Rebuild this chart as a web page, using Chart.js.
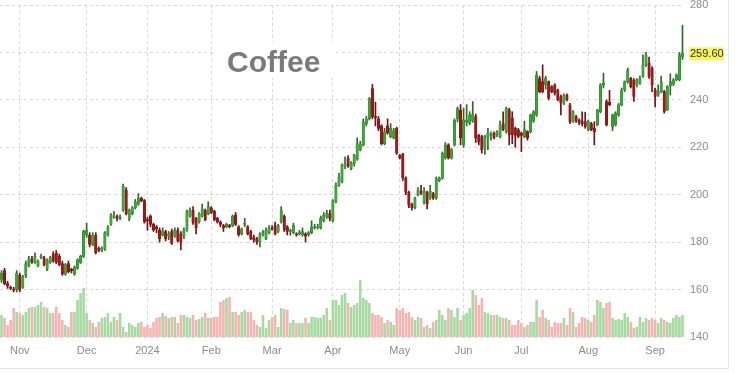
<!DOCTYPE html>
<html>
<head>
<meta charset="utf-8">
<script src="https://cdn.jsdelivr.net/npm/chart.js@4.4.1/dist/chart.umd.min.js"></script>
<style>
  body { margin: 0; background: #fff; }
  #wrap { width: 728px; height: 368px; border-right: 1px solid #e6e6e6; border-bottom: 1px solid #e6e6e6; }
</style>
</head>
<body>
<div id="wrap"><canvas id="chart" width="728" height="368"></canvas></div>
<script>
// daily candles, late Oct 2023 .. mid Sep 2024
const open = [
  164,168,162.5,161,160,160,166,161,166,170,173,171.5,170,173.5,173.5,168.5,171.5,175,175.5,174,
  171,166.5,171,168.5,166.5,169,171.5,174,183,183,179,183,177.5,176.5,177,183,187.5,190.5,191,190,
  193.5,202,190,192,194.5,196,198.5,197.5,189.5,191,187.5,186.5,185,183,184.5,182.5,184.5,182.5,185,183.5,
  182.5,185,191,193.5,190,188.5,191,193.5,192,194.5,193,190,188.5,187,186.5,187,187,191.5,186.5,183.5,
  187.5,186.5,184.5,182,181.5,180,183,181.5,184,186,187,184.5,188.5,191,186.5,184.5,184,183.5,183.5,183,
  183.5,183,184,186,186,186,189,190.5,192,189,197,204,205.5,212,215.5,211,213,215,219,221,
  230,232,244.8,233,232,229,221.5,229,224.5,224,228,216.5,217,207,201,196,194.5,200,201.5,196.5,
  201,198.5,200.5,198.5,206,207,215.5,221,215.5,221,232,235.6,221,230.5,230.2,231,233,225,224.5,219.6,
  224,225,226,225.3,224.5,230,226.6,235.8,232.3,228,227.4,226,224.5,226.6,226.6,231,233.7,249,247.7,246.3,
  247.7,245.6,246.3,244.2,241.4,238.6,242,237.9,230.8,233,231.5,230.8,230.8,227.4,230,228,229.5,235,246.4,239.3,
  239,228.7,229.4,233.7,237.9,244.2,247.7,249.1,248.4,246.3,247,249.9,254.8,255.5,253.4,244.2,242.1,243.5,243.5,235.8,
  246,246.6,248.4,248.4,258.3
];
const high = [
  168,169,163.5,161.5,161,168,167,166,172,174,174,175.5,172.5,175,174,173,174,176,176.5,175,
  172,171,172,169,170,173,174.5,185,188,184,184,184,178,178,184.5,187,192,193,191.5,191.5,
  204.5,203,194,195,198,200.5,199,198,190.5,191.5,188,187,186,186,185,184.5,185.5,186,186,184.5,
  186,193.5,194.5,195,190.5,192.5,196,194,197,195,193.5,190.5,189,187.5,188,187.5,191.5,192.5,187,186,
  190,187,185,183,182,184,185,186,187,187,188.5,187.5,195,191.5,187,185.5,188,184,185,186,
  184,184.5,189,187.5,187.5,191,192.5,193.5,193.5,198,205,209,213,216,216.5,214,217,224,222.5,232,
  233,241,246.5,239,233,229.5,228,232,230,228,228.5,217,217.5,207.5,201.5,196.5,199,203,204,203,
  201.5,204,201,207.5,207.5,218,222,221.5,219.5,232,237,238,236.5,238,235,239.3,234,225.5,225,225,
  228,226.5,226.5,227,231,235,237,236.5,235,228.5,228,226.5,231,227,234,235.5,252,250,254.8,250,
  248,246,246.8,244.5,242,242.5,242.5,238.5,235.5,233.5,232,235,234.8,231.5,230.5,230.8,236,246.8,251.3,240,
  244,234,235,238.5,245,248,253.4,249.5,249,249,250,259,260,258,254,245,246.3,250,244,246,
  251,249,251,260,271.5
];
const low = [
  163,162,160.5,160,159,159,159,160.5,165,169.5,171,171,169.5,173,170,168,171,171.5,171,170,
  166,166,167,167,166,168.5,171,173.5,182,178,178.5,175,176,176,176.5,182.5,187,190,189,189.5,
  193,191.5,189,191.5,194,195.5,197,188,185,186.5,184.5,184,180,182.5,180.5,181,179,182,180,176.7,
  181.5,184.5,190.5,187.5,183.5,188,190.5,189,191.5,192,189,188,186.5,184.5,186,186,186.5,187,182.5,183,
  186.5,183,181,180,179,178,182.5,181,183.5,185,183,184,188,184.5,183,182.9,183.5,182.5,183,182.5,
  180,182.5,183.5,185.5,185.5,185.5,188.5,190,189,188.5,196.5,203.5,205,211,211.5,210.5,212,214.5,218.5,220.5,
  229,231.5,232,229,227,221,221,225.5,224,223.5,217,215,206,200,194.5,193.5,194,199.5,200,196,
  194,198,198,198,205.5,206.5,215,215,215,220.5,230.7,221,220,229,229.5,230.5,222,221,217.5,217,
  219,223,223.5,224.5,224,227,226,221,221.5,220,224,218.2,224,223,226,230.5,233,243,243,244.5,
  240,243,242,239.5,233.7,238,239.5,230,230.5,230.5,229.5,229,228,227,227,221,229,234.5,245,229,
  237.5,227,229,233,237.5,243.5,247,245,239.3,245.5,246.5,249.5,254,249,243.5,237,241.5,243,234.4,235.5,
  242,246,248,248,257
];
const close = [
  167,162.5,161.5,160.5,159.8,167,160,165.5,171,173,171.5,174,172,174,170.5,172.5,173.5,172,171.5,170.5,
  166.5,170.5,167.5,168,169.5,172.5,174,184.7,185,179,183,175.5,176.5,177.5,184,186.5,191.5,191,190,190.5,
  203.5,192,193.5,194.5,197,198.5,197.5,188.5,189,187.5,185,185.5,181.5,184.5,181.5,183.5,179.5,185,180.5,180,
  185,193,193.5,188,186,192,194,189.5,195,192.5,189.5,188.5,187.5,186,187.5,186.5,191,187.5,183,185.5,
  188,183.5,181.5,181,180,183.5,184,185,186,185.5,183.5,187,193.5,185,184.5,185,187,183,184,184.5,
  182.5,184,186.5,186.5,186.5,190,191.5,192,190,197.5,204,207.5,212.5,213,212,213.5,216.7,221.6,221.5,230.7,
  232,240.5,232.8,232.5,228,221.5,226.5,226,228,227,217.5,215.5,207,201,195.5,194.5,198.5,202,200.5,201.5,
  196,201.5,198.5,206.8,207,217.5,221,215.5,219,231.4,236.3,224,231.6,231.5,233.7,234,223.8,222.4,219,224.5,
  226,225.5,224,226.5,229.4,227.5,236.5,225.2,225.2,225,224.6,225,227.5,223.8,233.7,235,250.5,243.5,243.5,249.1,
  240.7,243.5,242.8,240,238.6,242.1,240,230.8,235,231,230.3,230,228.7,230.8,227.4,226.5,235.8,246.3,247,229.4,
  238,233.7,234.4,237.9,244.2,247.7,252.6,245.6,241.4,248.4,249,254.8,259,249.7,246.3,241.4,243.5,247.7,235.1,245.6,
  247.7,248.4,250.5,259,259.6
];
// volume, thousand lots
const volume = [
  22,19,12,17,29,25,24,22,25,29,30,30,32,35,30,29,24,24,30,24,17,12,10,25,25,37,44,49,24,17,
  14,10,15,19,20,24,15,20,17,24,10,5,14,12,10,14,15,10,12,9,15,19,20,24,21,19,20,20,14,22,
  22,20,19,22,17,18,20,24,19,19,20,20,35,37,39,40,25,25,22,25,27,25,
  25,17,12,10,22,9,17,20,22,10,29,28,27,14,17,14,14,14,19,14,20,20,19,19,22,29,17,37,37,32,
  42,44,34,30,32,34,57,39,37,34,24,22,22,20,14,17,15,12,29,27,29,24,25,20,17,20,19,10,12,9,
  15,17,27,22,17,29,27,20,29,17,22,24,29,47,42,32,39,25,24,22,22,22,
  20,19,19,17,12,12,17,14,10,12,15,15,37,20,27,19,17,10,15,14,14,19,12,29,25,10,14,20,19,17,
  15,22,37,35,29,34,35,19,17,18,17,24,20,15,9,10,20,15,19,17,19,17,14,19,17,15,14,19,22,20,22
];
const monthLabels = ['Nov', 'Dec', '2024', 'Feb', 'Mar', 'Apr', 'May', 'Jun', 'Jul', 'Aug', 'Sep'];
const monthStart = [6, 28, 48, 69, 89, 109, 131, 152, 171, 193, 215];
const yTicks = [140, 160, 180, 200, 220, 240, 260, 280];

const labels = close.map(() => '');
monthStart.forEach((idx, k) => { labels[idx] = monthLabels[k]; });

const up = close.map((c, i) => c >= open[i]);
const gridColor = '#d9d9d9';

const titleBox = {
  id: 'titleBox',
  beforeDatasetsDraw(chart) {
    const ctx = chart.ctx;
    ctx.save();
    ctx.fillStyle = '#fff';
    ctx.fillRect(215, 42, 120, 36);
    ctx.fillStyle = '#7a7a7a';
    ctx.font = 'bold 30px "Liberation Sans", Arial, sans-serif';
    ctx.textAlign = 'left';
    ctx.textBaseline = 'alphabetic';
    ctx.fillText('Coffee', 227, 72);
    ctx.restore();
  }
};

const lastPrice = {
  id: 'lastPrice',
  afterDraw(chart) {
    const ctx = chart.ctx;
    const last = close[close.length - 1];
    const y = chart.scales.y.getPixelForValue(last);
    const x = chart.chartArea.right + 5;
    ctx.save();
    ctx.fillStyle = '#f8f45a';
    ctx.fillRect(x, y - 6, 35, 13);
    ctx.fillStyle = '#333';
    ctx.font = '11px "Liberation Sans", Arial, sans-serif';
    ctx.textBaseline = 'middle';
    ctx.fillText(last.toFixed(2), x + 1, y + 0.5);
    ctx.restore();
  }
};

new Chart(document.getElementById('chart'), {
  type: 'bar',
  data: {
    labels: labels,
    datasets: [
      {
        label: 'Body',
        data: close.map((c, i) => [open[i], c]),
        backgroundColor: up.map(u => u ? '#3aa935' : '#9e1a1a'),
        borderColor: up.map(u => u ? '#2d7a2a' : '#7a1212'),
        borderWidth: 0.5,
        borderSkipped: false,
        barThickness: 2.5,
        minBarLength: 1,
        grouped: false,
        order: 1
      },
      {
        label: 'Wick',
        data: close.map((c, i) => [low[i], high[i]]),
        backgroundColor: up.map(u => u ? '#2d6a2a' : '#6e1212'),
        barThickness: 1,
        grouped: false,
        order: 2
      },
      {
        label: 'Volume',
        data: volume,
        yAxisID: 'vol',
        backgroundColor: up.map(u => u ? 'rgb(166,218,160)' : 'rgb(244,180,178)'),
        barPercentage: 0.85,
        categoryPercentage: 1,
        grouped: false,
        order: 3
      }
    ]
  },
  options: {
    responsive: false,
    animation: false,
    devicePixelRatio: 1,
    layout: { padding: { top: 5, left: 0, right: 0, bottom: 0 } },
    plugins: { legend: { display: false }, tooltip: { enabled: false } },
    scales: {
      x: {
        offset: true,
        grid: {
          offset: false,
          drawTicks: false,
          color: c => labels[c.index] ? gridColor : 'rgba(0,0,0,0)'
        },
        border: { display: false, dash: [3, 3] },
        ticks: {
          autoSkip: false,
          maxRotation: 0,
          color: '#8c8c8c',
          padding: 7,
          font: { size: 11, family: '"Liberation Sans", Arial, sans-serif' }
        },
        afterFit: s => { s.height = 31; s.paddingLeft = 0; s.paddingRight = 0; }
      },
      y: {
        position: 'right',
        min: 140,
        max: 280,
        afterBuildTicks: s => { s.ticks = yTicks.map(v => ({ value: v })); },
        grid: { color: gridColor, drawTicks: false },
        border: { display: false, dash: [3, 3] },
        ticks: {
          color: '#8c8c8c',
          padding: 6,
          font: { size: 11, family: '"Liberation Sans", Arial, sans-serif' },
          callback: v => v === 260 ? '' : v
        },
        afterFit: s => { s.width = 44; s.paddingTop = 0; s.paddingBottom = 0; }
      },
      vol: {
        display: false,
        min: 0,
        max: 332
      }
    }
  },
  plugins: [titleBox, lastPrice]
});
</script>
</body>
</html>
